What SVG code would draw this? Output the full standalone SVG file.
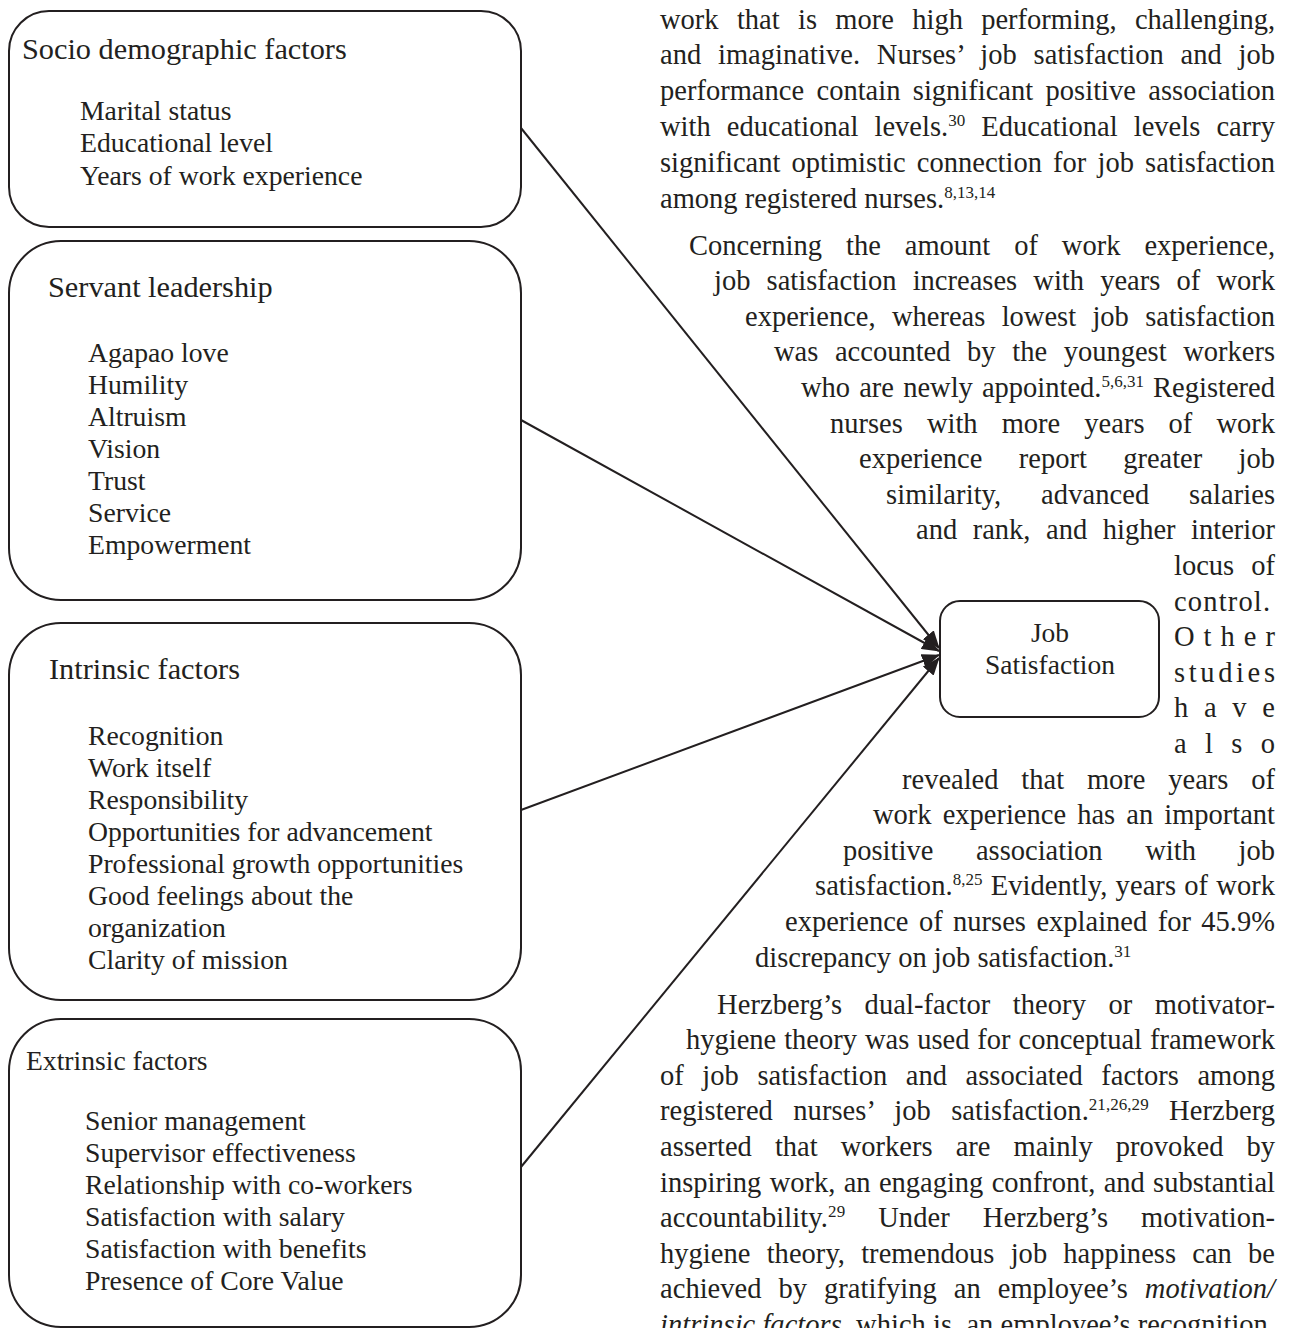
<svg xmlns="http://www.w3.org/2000/svg" width="1290" height="1328" viewBox="0 0 1290 1328">
<style>
.box{fill:#fff;stroke:#231f20;stroke-width:2}
.t{font-family:"Liberation Serif","Times New Roman",serif;fill:#231f20}
.title{font-size:30.3px}
.item{font-size:27.7px}
.ext{font-size:27.6px}
.body{font-size:28.5px}
.sup{font-size:17px}
.it{font-style:italic}
.conn{stroke:#231f20;stroke-width:2;fill:none;marker-end:url(#arr)}
</style>
<defs>
<marker id="arr" markerUnits="userSpaceOnUse" markerWidth="18" markerHeight="14" viewBox="0 0 18 14" refX="17" refY="7" orient="auto">
<path d="M0,0 L18,7 L0,14 z" fill="#231f20"/>
</marker>
</defs>
<rect width="1290" height="1328" fill="#fff"/>

<g id="connectors">
<line class="conn" x1="521" y1="128" x2="939" y2="648"/>
<line class="conn" x1="521" y1="420" x2="939" y2="651"/>
<line class="conn" x1="521" y1="810" x2="939" y2="655"/>
<line class="conn" x1="521" y1="1167" x2="939" y2="658"/>
</g>

<g id="socio">
<rect class="box" x="9" y="11" width="512" height="216" rx="40" ry="40"/>
<text class="t title" x="22" y="59">Socio demographic factors</text>
<text class="t item" x="80" y="120">Marital status</text>
<text class="t item" x="80" y="152">Educational level</text>
<text class="t item" x="80" y="185">Years of work experience</text>
</g>

<g id="servant">
<rect class="box" x="9" y="241" width="512" height="359" rx="52" ry="52"/>
<text class="t title" x="48" y="297">Servant leadership</text>
<text class="t item" x="88" y="362">Agapao love</text>
<text class="t item" x="88" y="394">Humility</text>
<text class="t item" x="88" y="426">Altruism</text>
<text class="t item" x="88" y="458">Vision</text>
<text class="t item" x="88" y="490">Trust</text>
<text class="t item" x="88" y="522">Service</text>
<text class="t item" x="88" y="554">Empowerment</text>
</g>

<g id="intrinsic">
<rect class="box" x="9" y="623" width="512" height="377" rx="52" ry="52"/>
<text class="t title" x="49" y="679">Intrinsic factors</text>
<text class="t item" x="88" y="745">Recognition</text>
<text class="t item" x="88" y="777">Work itself</text>
<text class="t item" x="88" y="809">Responsibility</text>
<text class="t item" x="88" y="841">Opportunities for advancement</text>
<text class="t item" x="88" y="873">Professional growth opportunities</text>
<text class="t item" x="88" y="905">Good feelings about the</text>
<text class="t item" x="88" y="937">organization</text>
<text class="t item" x="88" y="969">Clarity of mission</text>
</g>

<g id="extrinsic">
<rect class="box" x="9" y="1019" width="512" height="308" rx="52" ry="52"/>
<text class="t ext" x="26" y="1070">Extrinsic factors</text>
<text class="t item" x="85" y="1130">Senior management</text>
<text class="t item" x="85" y="1162">Supervisor effectiveness</text>
<text class="t item" x="85" y="1194">Relationship with co-workers</text>
<text class="t item" x="85" y="1226">Satisfaction with salary</text>
<text class="t item" x="85" y="1258">Satisfaction with benefits</text>
<text class="t item" x="85" y="1290">Presence of Core Value</text>
</g>

<g id="job-satisfaction">
<rect class="box" x="940" y="601" width="219" height="116" rx="20" ry="20"/>
<text class="t" font-size="27.5" x="1050" y="642" text-anchor="middle">Job</text>
<text class="t" font-size="27.5" x="1050" y="674" text-anchor="middle">Satisfaction</text>
</g>

<g id="body-text" class="t body">
<text x="660" y="28.5" word-spacing="11.2" textLength="615" lengthAdjust="spacing">work that is more high performing, challenging,</text>
<text x="660" y="64.3" word-spacing="9.5" textLength="615" lengthAdjust="spacing">and imaginative. Nurses’ job satisfaction and job</text>
<text x="660" y="100.1" word-spacing="5.3" textLength="615" lengthAdjust="spacing">performance contain significant positive association</text>
<text x="660" y="135.9" word-spacing="9" textLength="615" lengthAdjust="spacing">with educational levels.<tspan class="sup" dy="-10">30</tspan><tspan dy="10"> Educational levels carry</tspan></text>
<text x="660" y="171.7" word-spacing="4" textLength="615" lengthAdjust="spacing">significant optimistic connection for job satisfaction</text>
<text x="660" y="207.5">among registered nurses.<tspan class="sup" dy="-10">8,13,14</tspan></text>

<text x="689" y="254.5" word-spacing="16.8" textLength="586" lengthAdjust="spacing">Concerning the amount of work experience,</text>
<text x="714" y="290.1" word-spacing="9" textLength="561" lengthAdjust="spacing">job satisfaction increases with years of work</text>
<text x="745" y="325.7" word-spacing="9.2" textLength="530" lengthAdjust="spacing">experience, whereas lowest job satisfaction</text>
<text x="774" y="361.3" word-spacing="9.5" textLength="501" lengthAdjust="spacing">was accounted by the youngest workers</text>
<text x="801" y="396.9" word-spacing="2" textLength="474" lengthAdjust="spacing">who are newly appointed.<tspan class="sup" dy="-10">5,6,31</tspan><tspan dy="10"> Registered</tspan></text>
<text x="830" y="432.5" word-spacing="17" textLength="445" lengthAdjust="spacing">nurses with more years of work</text>
<text x="859" y="468.1" word-spacing="29.2" textLength="416" lengthAdjust="spacing">experience report greater job</text>
<text x="886" y="503.7" word-spacing="32.6" textLength="389" lengthAdjust="spacing">similarity, advanced salaries</text>
<text x="916" y="539.3" word-spacing="8.4" textLength="359" lengthAdjust="spacing">and rank, and higher interior</text>
<text x="1174" y="574.9" word-spacing="10" textLength="101" lengthAdjust="spacing">locus of</text>
<text x="1174" y="610.5" textLength="96" lengthAdjust="spacing">control.</text>
<text x="1174" y="646.1" textLength="101" lengthAdjust="spacing">Other</text>
<text x="1174" y="681.7" textLength="101" lengthAdjust="spacing">studies</text>
<text x="1174" y="717.3" textLength="101" lengthAdjust="spacing">have</text>
<text x="1174" y="752.9" textLength="101" lengthAdjust="spacing">also</text>
<text x="902" y="788.5" word-spacing="15.7" textLength="373" lengthAdjust="spacing">revealed that more years of</text>
<text x="873" y="824.1" word-spacing="4" textLength="402" lengthAdjust="spacing">work experience has an important</text>
<text x="843" y="859.7" word-spacing="35.5" textLength="432" lengthAdjust="spacing">positive association with job</text>
<text x="815" y="895.3" word-spacing="1" textLength="460" lengthAdjust="spacing">satisfaction.<tspan class="sup" dy="-10">8,25</tspan><tspan dy="10"> Evidently, years of work</tspan></text>
<text x="785" y="930.9" word-spacing="3.3" textLength="490" lengthAdjust="spacing">experience of nurses explained for 45.9%</text>
<text x="755" y="966.5">discrepancy on job satisfaction.<tspan class="sup" dy="-10">31</tspan></text>

<text x="717" y="1013.5" word-spacing="15.2" textLength="558" lengthAdjust="spacing">Herzberg’s dual-factor theory or motivator-</text>
<text x="686" y="1049.1" word-spacing="0.8" textLength="589" lengthAdjust="spacing">hygiene theory was used for conceptual framework</text>
<text x="660" y="1084.7" word-spacing="11.5" textLength="615" lengthAdjust="spacing">of job satisfaction and associated factors among</text>
<text x="660" y="1120.3" word-spacing="13.2" textLength="615" lengthAdjust="spacing">registered nurses’ job satisfaction.<tspan class="sup" dy="-10">21,26,29</tspan><tspan dy="10"> Herzberg</tspan></text>
<text x="660" y="1155.9" word-spacing="16" textLength="615" lengthAdjust="spacing">asserted that workers are mainly provoked by</text>
<text x="660" y="1191.5" word-spacing="1.2" textLength="615" lengthAdjust="spacing">inspiring work, an engaging confront, and substantial</text>
<text x="660" y="1227.1" word-spacing="25.7" textLength="615" lengthAdjust="spacing">accountability.<tspan class="sup" dy="-10">29</tspan><tspan dy="10"> Under Herzberg’s motivation-</tspan></text>
<text x="660" y="1262.7" word-spacing="9" textLength="615" lengthAdjust="spacing">hygiene theory, tremendous job happiness can be</text>
<text x="660" y="1298.3" word-spacing="9.8" textLength="615" lengthAdjust="spacing">achieved by gratifying an employee’s <tspan class="it">motivation/</tspan></text>
<text x="660" y="1333.9" textLength="615" lengthAdjust="spacing"><tspan class="it">intrinsic factors</tspan>, which is, an employee’s recognition,</text>
</g>
</svg>
